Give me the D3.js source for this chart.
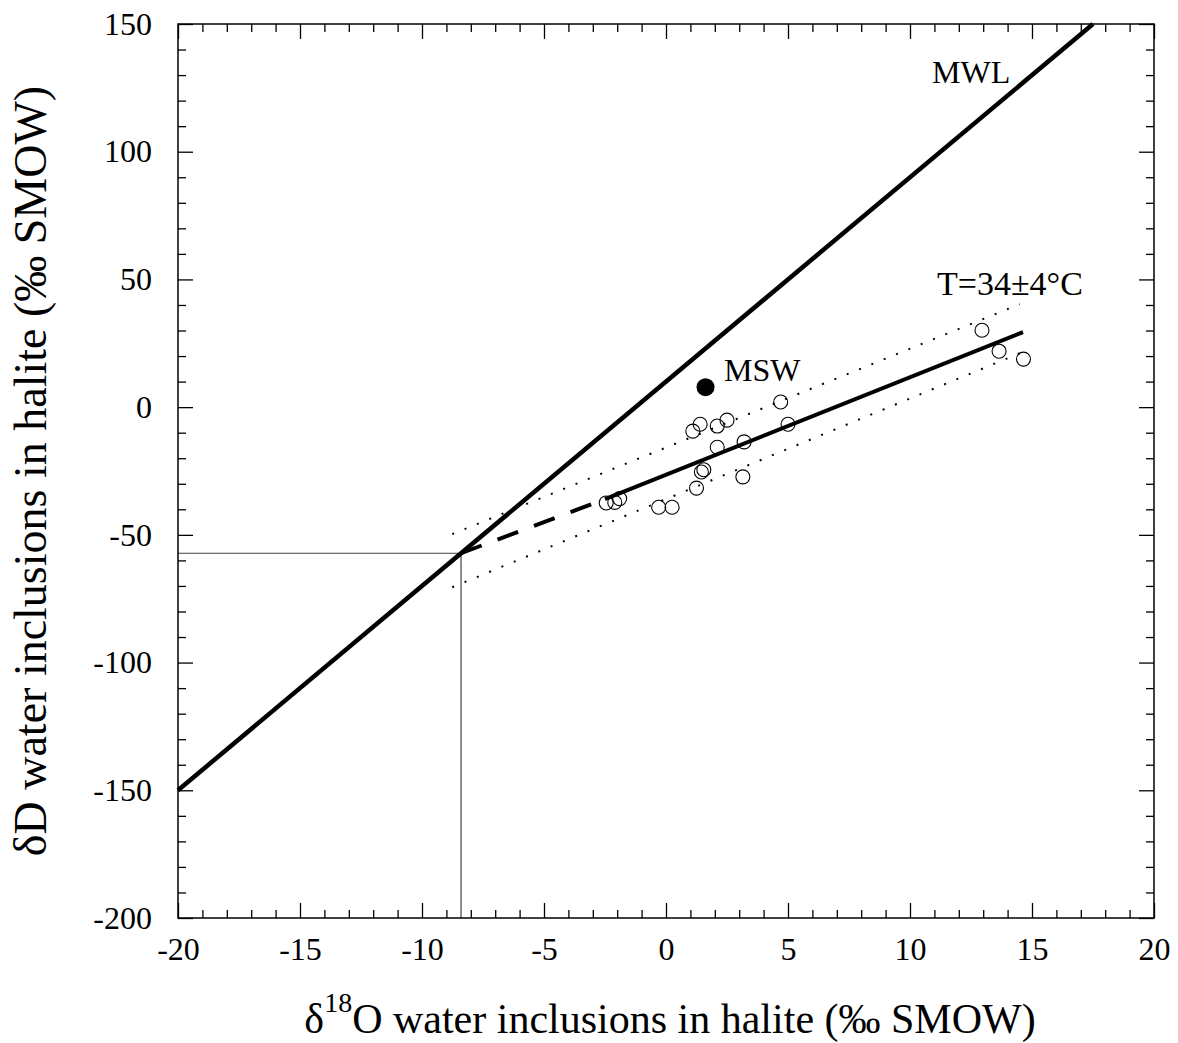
<!DOCTYPE html>
<html>
<head>
<meta charset="utf-8">
<script src="https://cdn.jsdelivr.net/npm/d3@7"></script>
<style>
  body { margin: 0; background: #fff; }
  svg { display: block; font-family: "Liberation Serif", "Times New Roman", serif; }
  svg text { font-family: "Liberation Serif", "Times New Roman", serif; }
</style>
</head>
<body>
<div id="chart"></div>
<script>
// halite fluid inclusions: dD vs d18O
const sampleO18 = [-2.45, -2.1, -1.9, -0.3, 0.25, 1.25, 1.45, 1.55, 3.15, 2.1, 3.2, 1.1, 1.4, 2.1, 2.5, 4.7, 5.0, 12.95, 13.65, 14.65];
const sampleD   = [-37.5, -37.3, -35.8, -39.2, -39.2, -31.7, -25.4, -24.5, -27.3, -15.7, -13.6, -9.4, -6.7, -7.4, -5.1, 2.0, -6.7, 30.1, 21.9, 18.8];

const msw = { o18: 1.62, d: 7.8, label: "MSW" };

// meteoric water line end points
const mwlO18 = [-20, 17.5];
const mwlD = [-150, 150];

// regression through the samples, extrapolated (dashed) to the MWL
const fitSolidO18 = [-2.5, 14.63];
const fitSolidD = [-36.0, 29.4];
const fitDashO18 = [-8.4, -2.5];
const fitDashD = [-57.2, -36.0];

// temperature envelope
const bandUpperO18 = [-8.76, 14.5];
const bandUpperD = [-49.7, 40.3];
const bandLowerO18 = [-8.76, 14.5];
const bandLowerD = [-70.5, 21.1];

// intersection with the MWL
const crossO18 = -8.4;
const crossD = -57.2;

const xMajor = [-20, -15, -10, -5, 0, 5, 10, 15, 20];
const yMajor = [-200, -150, -100, -50, 0, 50, 100, 150];

const width = 1178, height = 1043;
const margin = { top: 24, right: 24, bottom: 125, left: 178 };

const x = d3.scaleLinear().domain([-20, 20]).range([margin.left, width - margin.right]);
const y = d3.scaleLinear().domain([-200, 150]).range([height - margin.bottom, margin.top]);

const svg = d3.select("#chart").append("svg")
    .attr("width", width)
    .attr("height", height);

const x0 = x.range()[0], x1 = x.range()[1];
const y0 = y.range()[1], y1 = y.range()[0];

// inward ticks on all four sides
const xMinor = d3.range(-20, 20.01, 1).filter(v => v % 5 !== 0);
const yMinor = d3.range(-200, 150.01, 10).filter(v => v % 50 !== 0);

function ticks(axis, scale, vals, size) {
    return axis(scale).tickValues(vals).tickSize(size).tickFormat("");
}

const axes = svg.append("g").attr("class", "ticks");
axes.append("g").attr("transform", `translate(0,${y1})`).call(ticks(d3.axisBottom, x, xMinor, -8));
axes.append("g").attr("transform", `translate(0,${y1})`).call(ticks(d3.axisBottom, x, xMajor, -15));
axes.append("g").attr("transform", `translate(0,${y0})`).call(ticks(d3.axisTop, x, xMinor, -8));
axes.append("g").attr("transform", `translate(0,${y0})`).call(ticks(d3.axisTop, x, xMajor, -15));
axes.append("g").attr("transform", `translate(${x0},0)`).call(ticks(d3.axisLeft, y, yMinor, -8));
axes.append("g").attr("transform", `translate(${x0},0)`).call(ticks(d3.axisLeft, y, yMajor, -15));
axes.append("g").attr("transform", `translate(${x1},0)`).call(ticks(d3.axisRight, y, yMinor, -8));
axes.append("g").attr("transform", `translate(${x1},0)`).call(ticks(d3.axisRight, y, yMajor, -15));
axes.selectAll(".domain").remove();
axes.selectAll(".tick line").attr("stroke", "#000").attr("stroke-width", 1.3);

// tick labels (plain hyphen for negatives)
svg.append("g")
    .attr("transform", `translate(0,${y1})`)
    .call(d3.axisBottom(x).tickValues(xMajor).tickSize(0).tickPadding(19).tickFormat(d => String(d)))
    .call(g => g.select(".domain").remove())
    .attr("font-family", null)
    .selectAll("text")
    .attr("font-size", 32)
    .attr("fill", "#000");

svg.append("g")
    .attr("transform", `translate(${x0},0)`)
    .call(d3.axisLeft(y).tickValues(yMajor).tickSize(0).tickPadding(26).tickFormat(d => String(d)))
    .call(g => g.select(".domain").remove())
    .attr("font-family", null)
    .selectAll("text")
    .attr("font-size", 32)
    .attr("fill", "#000");

const plot = svg.append("g");

const pts = (xs, ys) => xs.map((v, i) => [x(v), y(ys[i])]);
const line = d3.line();

// guide lines to the intersection
plot.append("path")
    .attr("d", line([[x0, y(crossD)], [x(crossO18), y(crossD)], [x(crossO18), y1]]))
    .attr("fill", "none")
    .attr("stroke", "#444")
    .attr("stroke-width", 1.2);

// envelope
[[bandUpperO18, bandUpperD], [bandLowerO18, bandLowerD]].forEach(([xs, ys]) => {
    plot.append("path")
        .attr("d", line(pts(xs, ys)))
        .attr("fill", "none")
        .attr("stroke", "#000")
        .attr("stroke-width", 2)
        .attr("stroke-dasharray", "2 11.3");
});

// MWL
plot.append("path")
    .attr("d", line(pts(mwlO18, mwlD)))
    .attr("fill", "none")
    .attr("stroke", "#000")
    .attr("stroke-width", 4.5);

// fit line
plot.append("path")
    .attr("d", line(pts(fitDashO18, fitDashD)))
    .attr("fill", "none")
    .attr("stroke", "#000")
    .attr("stroke-width", 4)
    .attr("stroke-dasharray", "22 17");

plot.append("path")
    .attr("d", line(pts(fitSolidO18, fitSolidD)))
    .attr("fill", "none")
    .attr("stroke", "#000")
    .attr("stroke-width", 4);

// samples
plot.append("g")
    .selectAll("circle")
    .data(sampleO18.map((v, i) => [v, sampleD[i]]))
    .join("circle")
    .attr("cx", d => x(d[0]))
    .attr("cy", d => y(d[1]))
    .attr("r", 7)
    .attr("fill", "none")
    .attr("stroke", "#000")
    .attr("stroke-width", 1.1);

// modern sea water
plot.append("circle")
    .attr("cx", x(msw.o18))
    .attr("cy", y(msw.d))
    .attr("r", 9)
    .attr("fill", "#000");

const labels = svg.append("g")
    .attr("fill", "#000");

labels.append("text").attr("x", 724).attr("y", 381).attr("font-size", 32).text(msw.label);
labels.append("text").attr("x", 932).attr("y", 83).attr("font-size", 32).text("MWL");
labels.append("text").attr("x", 937).attr("y", 295).attr("font-size", 34).text("T=34±4°C");

// frame
svg.append("rect")
    .attr("x", x0).attr("y", y0)
    .attr("width", x1 - x0).attr("height", y1 - y0)
    .attr("fill", "none")
    .attr("stroke", "#000")
    .attr("stroke-width", 1.5);

// axis titles
const xt = svg.append("text")
    .attr("x", 670)
    .attr("y", 1033)
    .attr("text-anchor", "middle")
    .attr("font-size", 42)
    .attr("fill", "#000");
xt.append("tspan").text("δ");
xt.append("tspan").attr("dy", -21).attr("font-size", 28).text("18");
xt.append("tspan").attr("dy", 21).text("O water inclusions in halite (‰ SMOW)");

svg.append("text")
    .attr("transform", "translate(46,471) rotate(-90)")
    .attr("text-anchor", "middle")
    .attr("font-size", 46)
    .attr("fill", "#000")
    .text("δD water inclusions in halite (‰ SMOW)");
</script>
</body>
</html>
